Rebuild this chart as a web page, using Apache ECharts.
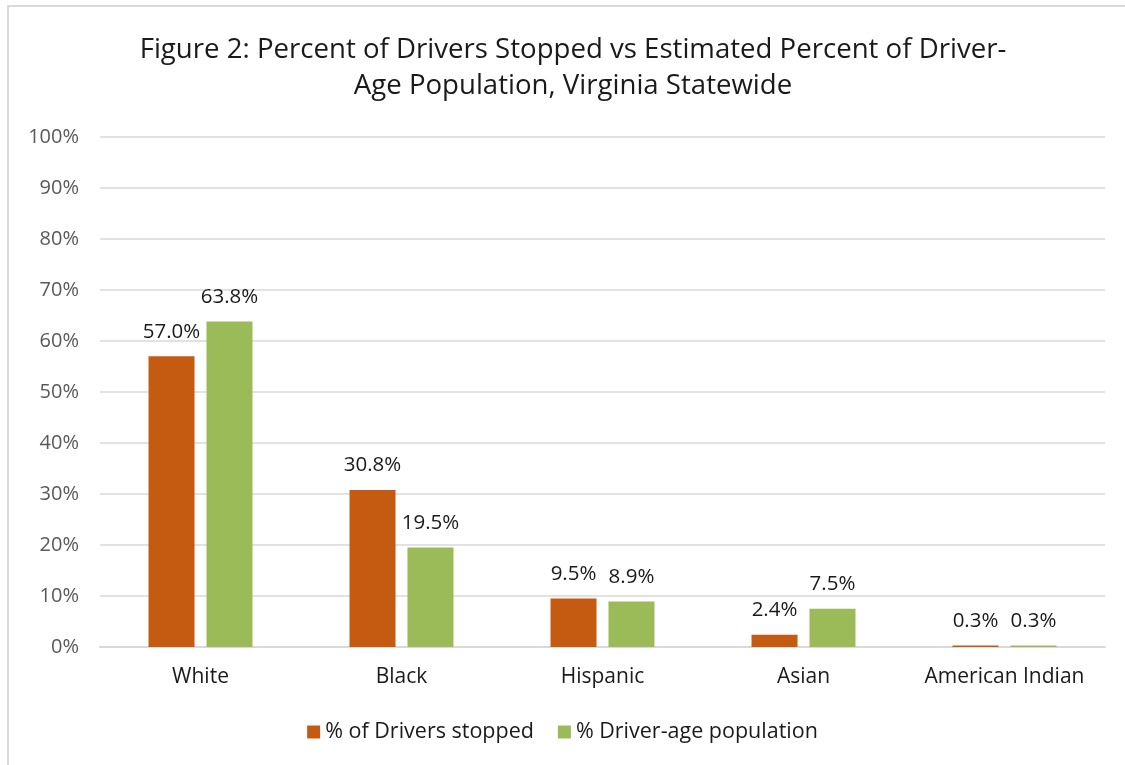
<!DOCTYPE html>
<html>
<head>
<meta charset="utf-8">
<script src="https://cdn.jsdelivr.net/npm/echarts@6/dist/echarts.min.js"></script>
<style>
html,body{margin:0;padding:0;background:#fff;}
#frame{position:absolute;left:7px;top:5px;width:1130px;height:770px;border-left:2px solid #d9d9d9;border-top:2px solid #d9d9d9;}
#chart{position:absolute;left:0;top:0;width:1125px;height:765px;}
</style>
</head>
<body>
<div id="frame"></div>
<div id="chart"></div>
<script>
const categories = ['White', 'Black', 'Hispanic', 'Asian', 'American Indian'];
const driversStopped = [57.0, 30.8, 9.5, 2.4, 0.3];
const driverAgePop = [63.8, 19.5, 8.9, 7.5, 0.3];
const seriesNames = ['% of Drivers stopped', '% Driver-age population'];
const titleText = 'Figure 2: Percent of Drivers Stopped vs Estimated Percent of Driver-\nAge Population, Virginia Statewide';

const FONT = '"Open Sans", Lato, sans-serif';
const chart = echarts.init(document.getElementById('chart'), null, {renderer: 'canvas'});
const labelCfg = {
  show: true, position: 'top', distance: 14,
  formatter: p => p.value.toFixed(1) + '%',
  fontFamily: FONT, fontSize: 20.5, color: '#1a1a1a'
};
chart.setOption({
  animation: false,
  backgroundColor: 'transparent',
  title: {
    text: titleText, left: 568, textAlign: 'center', top: 27,
    textStyle: {fontFamily: FONT, fontSize: 27.6, fontWeight: 'normal', color: '#1a1a1a', lineHeight: 36}
  },
  legend: {
    data: seriesNames, bottom: 17, left: 'center', itemWidth: 13, itemHeight: 13, itemGap: 24,
    icon: 'rect',
    textStyle: {fontFamily: FONT, fontSize: 21.5, color: '#1a1a1a'}
  },
  grid: {left: 100, right: 20, top: 137, bottom: 118},
  xAxis: {
    type: 'category', data: categories,
    axisLine: {lineStyle: {color: '#d9d9d9', width: 2}},
    axisTick: {show: false},
    axisLabel: {fontFamily: FONT, fontSize: 21, color: '#1a1a1a', margin: 20, interval: 0}
  },
  yAxis: {
    type: 'value', min: 0, max: 100, interval: 10,
    axisLine: {show: false}, axisTick: {show: false},
    splitLine: {lineStyle: {color: '#d9d9d9', width: 1.5}},
    axisLabel: {fontFamily: FONT, fontSize: 20, color: '#595959', margin: 21, formatter: v => v + '%'}
  },
  series: [
    {name: seriesNames[0], type: 'bar', data: driversStopped, barWidth: 46, barGap: '26%',
     itemStyle: {color: '#C55A11'}, label: labelCfg},
    {name: seriesNames[1], type: 'bar', data: driverAgePop, barWidth: 46,
     itemStyle: {color: '#9BBB59'}, label: labelCfg}
  ]
});
</script>
</body>
</html>
